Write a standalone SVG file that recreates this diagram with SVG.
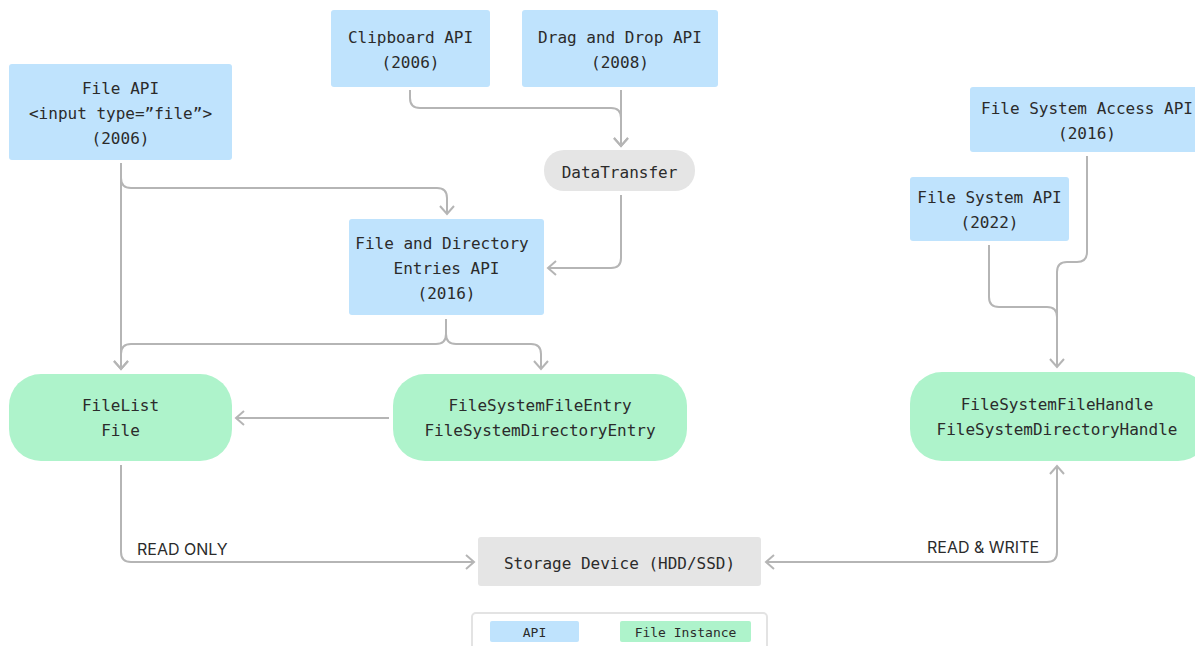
<svg xmlns="http://www.w3.org/2000/svg" width="1195" height="646" viewBox="0 0 1195 646">
  <defs>
    <marker id="arrow" viewBox="0 0 12 16" refX="10" refY="8" markerWidth="12" markerHeight="16" markerUnits="userSpaceOnUse" orient="auto">
      <polyline points="2,1 10,8 2,15" fill="none" stroke="#b5b5b5" stroke-width="2"/>
    </marker>
    <marker id="arrow-start" viewBox="0 0 12 16" refX="2" refY="8" markerWidth="12" markerHeight="16" markerUnits="userSpaceOnUse" orient="auto">
      <polyline points="10,1 2,8 10,15" fill="none" stroke="#b5b5b5" stroke-width="2"/>
    </marker>
  </defs>
  <style>
    .api { fill: #bfe3fd; }
    .inst { fill: #aef3cb; }
    .neutral { fill: #e5e5e5; }
    .t { font-family: "DejaVu Sans Mono", "Liberation Mono", monospace; font-size: 16px; fill: #2b2b2b; text-anchor: middle; dominant-baseline: central; }
    .lbl { font-family: Inter, "Liberation Sans", sans-serif; font-size: 16px; fill: #2b2b2b; }
    .lg { font-family: "DejaVu Sans Mono", "Liberation Mono", monospace; font-size: 13px; fill: #2b2b2b; text-anchor: middle; dominant-baseline: central; }
    .c { fill: none; stroke: #b5b5b5; stroke-width: 2; }
  </style>
  <rect width="1195" height="646" fill="#ffffff"/>

  <g id="connectors">
    <!-- File API to FileList, with branch to Entries API -->
    <path class="c" d="M121,163 V369" marker-end="url(#arrow)"/>
    <path class="c" d="M121,163 V178 Q121,188 131,188 H437 Q447,188 447,198 V214" marker-end="url(#arrow)"/>
    <!-- Clipboard and Drag and Drop merge into DataTransfer -->
    <path class="c" d="M410,90 V98 Q410,108 420,108 H611 Q621,108 621,118 V146" marker-end="url(#arrow)"/>
    <path class="c" d="M621,90 V146" marker-end="url(#arrow)"/>
    <!-- DataTransfer to Entries API -->
    <path class="c" d="M621,195 V258 Q621,268 611,268 H548" marker-end="url(#arrow)"/>
    <!-- Entries API to FileList and FileSystemFileEntry -->
    <path class="c" d="M446,319 V334 Q446,344 436,344 H131 Q121,344 121,354 V369" marker-end="url(#arrow)"/>
    <path class="c" d="M446,319 V334 Q446,344 456,344 H531 Q541,344 541,354 V369" marker-end="url(#arrow)"/>
    <!-- Entry to FileList -->
    <path class="c" d="M389,418 H236" marker-end="url(#arrow)"/>
    <!-- FileList to storage (read only) -->
    <path class="c" d="M121,465 V552 Q121,562 131,562 H474" marker-end="url(#arrow)"/>
    <!-- Storage and handles (read & write), arrowheads at both ends -->
    <path class="c" d="M766,562 H1047 Q1057,562 1057,552 V466" marker-start="url(#arrow-start)" marker-end="url(#arrow)"/>
    <!-- File System Access API and File System API to handles -->
    <path class="c" d="M1087,156 V252 Q1087,262 1077,262 H1067 Q1057,262 1057,272 V367" marker-end="url(#arrow)"/>
    <path class="c" d="M989,245 V297 Q989,307 999,307 H1047 Q1057,307 1057,317"/>
  </g>

  <g id="file-api">
    <rect class="api" x="9" y="64" width="223" height="96" rx="3"/>
    <text class="t" x="120.5" y="88">File API</text>
    <text class="t" x="120.5" y="113">&lt;input type=”file”&gt;</text>
    <text class="t" x="120.5" y="138">(2006)</text>
  </g>

  <g id="clipboard-api">
    <rect class="api" x="331" y="10" width="159" height="77" rx="3"/>
    <text class="t" x="410.5" y="37">Clipboard API</text>
    <text class="t" x="410.5" y="62">(2006)</text>
  </g>

  <g id="drag-drop-api">
    <rect class="api" x="522" y="10" width="196" height="77" rx="3"/>
    <text class="t" x="620" y="37">Drag and Drop API</text>
    <text class="t" x="620" y="62">(2008)</text>
  </g>

  <g id="data-transfer">
    <rect class="neutral" x="544" y="150" width="151" height="41" rx="20"/>
    <text class="t" x="619.5" y="172">DataTransfer</text>
  </g>

  <g id="entries-api">
    <rect class="api" x="349" y="219" width="195" height="96" rx="3"/>
    <text class="t" x="442" y="243">File and Directory</text>
    <text class="t" x="446.5" y="268">Entries API</text>
    <text class="t" x="446.5" y="293">(2016)</text>
  </g>

  <g id="file-system-access-api">
    <rect class="api" x="970" y="87" width="235" height="65" rx="3"/>
    <text class="t" x="1087" y="108">File System Access API</text>
    <text class="t" x="1087" y="133">(2016)</text>
  </g>

  <g id="file-system-api">
    <rect class="api" x="910" y="177" width="159" height="64" rx="3"/>
    <text class="t" x="989.5" y="197">File System API</text>
    <text class="t" x="989.5" y="222">(2022)</text>
  </g>

  <g id="file-list">
    <rect class="inst" x="9" y="374" width="223" height="87" rx="32"/>
    <text class="t" x="120.5" y="405">FileList</text>
    <text class="t" x="120.5" y="430">File</text>
  </g>

  <g id="file-system-entry">
    <rect class="inst" x="393" y="374" width="294" height="87" rx="32"/>
    <text class="t" x="540" y="405">FileSystemFileEntry</text>
    <text class="t" x="540" y="430">FileSystemDirectoryEntry</text>
  </g>

  <g id="file-system-handle">
    <rect class="inst" x="910" y="372" width="300" height="89" rx="32"/>
    <text class="t" x="1057" y="404">FileSystemFileHandle</text>
    <text class="t" x="1057" y="429">FileSystemDirectoryHandle</text>
  </g>

  <g id="storage-device">
    <rect class="neutral" x="478" y="537" width="283" height="49" rx="3"/>
    <text class="t" x="619.5" y="563">Storage Device (HDD/SSD)</text>
  </g>

  <g id="edge-labels">
    <text class="lbl" x="137" y="555">READ ONLY</text>
    <text class="lbl" x="927" y="553">READ &amp; WRITE</text>
  </g>

  <g id="legend">
    <rect x="472" y="613" width="295" height="45" rx="4" fill="#ffffff" stroke="#e3e3e3" stroke-width="2"/>
    <rect class="api" x="490" y="621" width="89" height="21" rx="2"/>
    <text class="lg" x="534.5" y="632">API</text>
    <rect class="inst" x="620" y="621" width="131" height="21" rx="2"/>
    <text class="lg" x="685.5" y="632">File Instance</text>
  </g>
</svg>
